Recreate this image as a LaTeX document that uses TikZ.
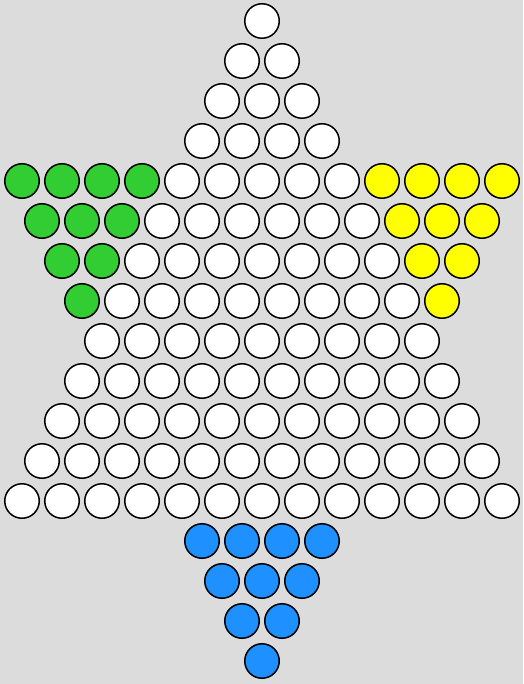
\documentclass[tikz,border=0pt]{standalone}
\usepackage{tikz}
\definecolor{boardbg}{RGB}{220,220,220}
\definecolor{lime}{RGB}{50,205,50}
\definecolor{lemon}{RGB}{255,255,0}
\definecolor{dodger}{RGB}{30,144,255}
\tikzstyle{hole}=[circle, draw=black, line width=1.5pt, minimum size=34.5pt, inner sep=0pt, fill=white]
\begin{document}
\begin{tikzpicture}[x=1pt,y=-1pt]
\fill[boardbg] (0,0) rectangle (523,684);
\foreach \r in {0,...,16}{
  \pgfmathtruncatemacro{\n}{\r<4 ? \r+1 : (\r>12 ? 17-\r : abs(\r-8)+9)}
  \pgfmathtruncatemacro{\m}{\n-1}
  \pgfmathtruncatemacro{\g}{(\r>3 && \r<8) ? 8-\r : 0}
  \foreach \i in {0,...,\m}{
    \def\col{white}
    \ifnum\r>12 \def\col{dodger}\fi
    \ifnum\i<\g \def\col{lime}\fi
    \ifnum\i>\numexpr\m-\g\relax \def\col{lemon}\fi
    \node[hole, fill=\col] (h-\r-\i) at ({262-20*\m+40*\i}, {21+40*\r}) {};
  }
}
\end{tikzpicture}
\end{document}
